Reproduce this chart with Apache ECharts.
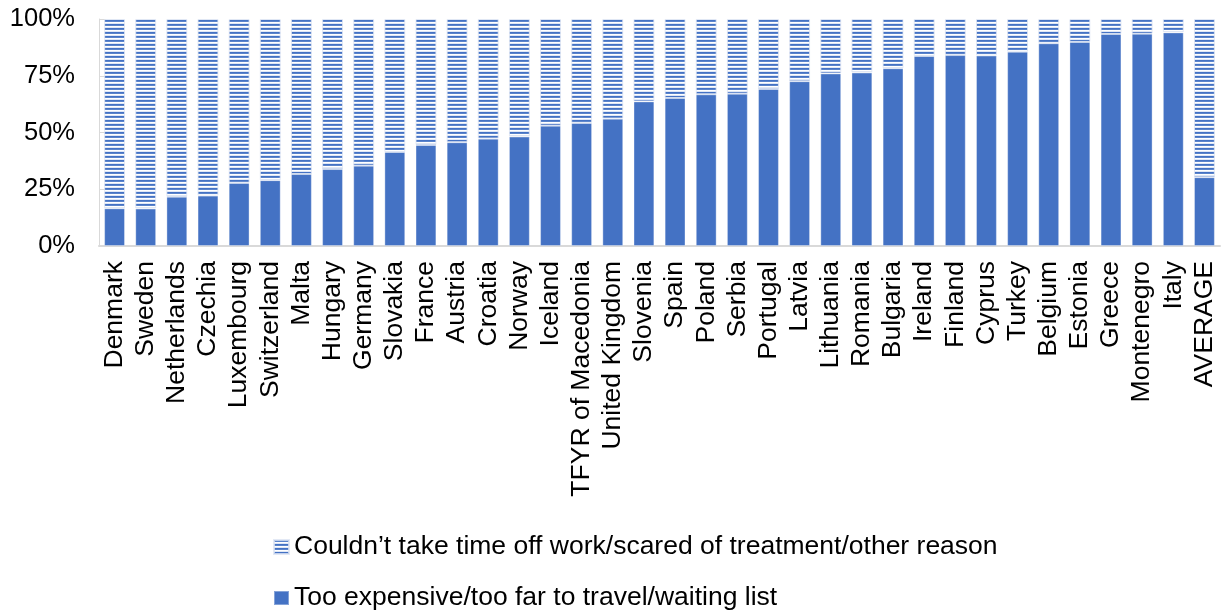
<!DOCTYPE html>
<html>
<head>
<meta charset="utf-8">
<script src="https://cdn.jsdelivr.net/npm/echarts@6/dist/echarts.min.js"></script>
<style>
html,body{margin:0;padding:0;background:#fff;}
#chart{width:1221px;height:612px;}
</style>
</head>
<body>
<div id="chart"></div>
<script>
const categories = ["Denmark","Sweden","Netherlands","Czechia","Luxembourg","Switzerland","Malta","Hungary","Germany","Slovakia","France","Austria","Croatia","Norway","Iceland","TFYR of Macedonia","United Kingdom","Slovenia","Spain","Poland","Serbia","Portugal","Latvia","Lithuania","Romania","Bulgaria","Ireland","Finland","Cyprus","Turkey","Belgium","Estonia","Greece","Montenegro","Italy","AVERAGE"];
const expensiveValues = [16.6,16.5,21.7,22.2,27.8,29.0,31.7,33.9,35.4,41.4,44.5,45.7,47.3,48.2,53.0,54.2,56.1,63.7,65.2,66.8,67.1,69.2,72.6,76.0,76.4,78.3,83.7,84.1,83.9,85.6,89.3,89.9,93.4,93.5,94.1,30.3];
const otherValues = [83.4,83.5,78.3,77.8,72.2,71.0,68.3,66.1,64.6,58.6,55.5,54.3,52.7,51.8,47.0,45.8,43.9,36.3,34.8,33.2,32.9,30.8,27.4,24.0,23.6,21.7,16.3,15.9,16.1,14.4,10.7,10.1,6.6,6.5,5.9,69.7];
const yTicks = [0,25,50,75,100];
const seriesNames = ["Too expensive/too far to travel/waiting list","Couldn\u2019t take time off work/scared of treatment/other reason"];

const pc = document.createElement('canvas');
pc.width = 4; pc.height = 4;
const ctx = pc.getContext('2d');
ctx.fillStyle = '#ffffff'; ctx.fillRect(0,0,4,4);
ctx.fillStyle = '#4472c4'; ctx.fillRect(0,0,4,1);
ctx.fillStyle = '#5b84cb'; ctx.fillRect(0,1,4,1);
ctx.fillStyle = '#dfe7f5'; ctx.fillRect(0,3,4,1);
const stripe = {image: pc, repeat: 'repeat'};

const font = '"Liberation Sans", Arial, sans-serif';
const legendText = {fontFamily: font, fontSize: 26.5, color: '#000', lineHeight: 30};
const chart = echarts.init(document.getElementById('chart'));
chart.setOption({
  animation: false,
  backgroundColor: '#fff',
  grid: {left: 99, right: 1, top: 19, bottom: 366},
  legend: [
    {left: 268, top: 527, icon: 'rect', itemWidth: 15, itemHeight: 14, data: [seriesNames[1]], textStyle: legendText},
    {left: 268, top: 578, icon: 'rect', itemWidth: 15, itemHeight: 14, data: [seriesNames[0]], textStyle: legendText}
  ],
  xAxis: {
    type: 'category', data: categories,
    axisLine: {lineStyle: {color: '#d9d9d9', width: 2}},
    axisTick: {show: false},
    axisLabel: {rotate: 90, interval: 0, margin: 15, fontFamily: font, fontSize: 26.5, color: '#000'}
  },
  yAxis: {
    type: 'value', min: yTicks[0], max: yTicks[yTicks.length-1], interval: 25,
    axisLine: {show: true, lineStyle: {color: '#d9d9d9', width: 1}},
    axisTick: {show: true, inside: true, length: 7, lineStyle: {color: '#d9d9d9'}},
    splitLine: {show: false},
    axisLabel: {formatter: '{value}%', margin: 24, fontFamily: font, fontSize: 25.5, color: '#000'}
  },
  series: [
    {name: seriesNames[0], type: 'bar', stack: 'a', data: expensiveValues, barCategoryGap: '33%',
     itemStyle: {color: '#4472c4', borderColor: 'rgba(255,255,255,0.35)', borderWidth: 1}},
    {name: seriesNames[1], type: 'bar', stack: 'a', data: otherValues, barCategoryGap: '33%',
     itemStyle: {color: stripe, borderColor: 'rgba(220,228,242,0.8)', borderWidth: 1}}
  ]
});
</script>
</body>
</html>
